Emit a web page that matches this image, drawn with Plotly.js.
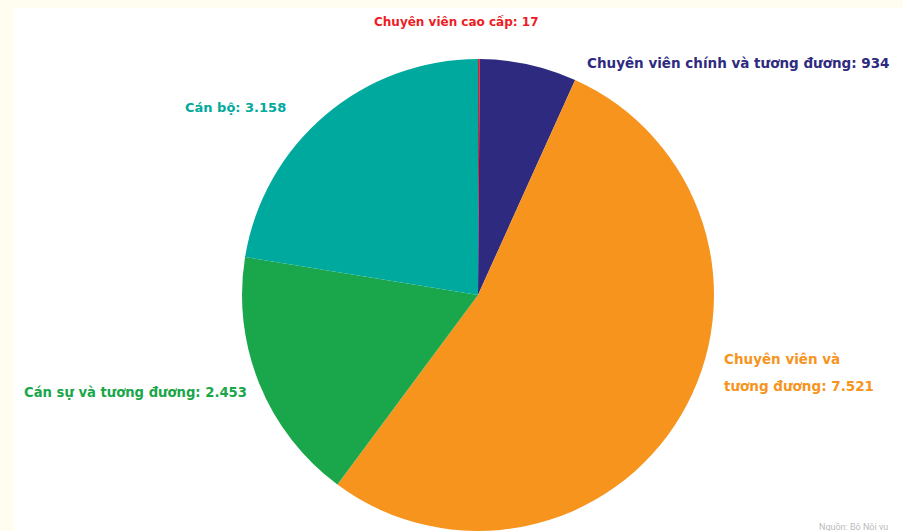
<!DOCTYPE html>
<html>
<head>
<meta charset="utf-8">
<script src="https://cdn.plot.ly/plotly-3.0.1.min.js"></script>
<style>
html,body{margin:0;padding:0;background:#FFFDEF;}
#chart{width:903px;height:531px;}
</style>
</head>
<body>
<div id="chart"></div>
<script>
const categories = ["Chuyên viên cao cấp", "Chuyên viên chính và tương đương", "Chuyên viên và tương đương", "Cán sự và tương đương", "Cán bộ"];
const values = [17, 934, 7521, 2453, 3158];
const valueLabels = ["17", "934", "7.521", "2.453", "3.158"];
const colors = ["#ED1C24", "#2E2A80", "#F7941D", "#1AA64A", "#00A99D"];

const W = 903, H = 531;
const px = x => x / W;
const py = y => 1 - y / H;

const cx = 478, cy = 295, r = 236;

// label placement: each line its own text row
const labelLines = [
  [{t: categories[0] + ": " + valueLabels[0], x: 372, y: 22, size: 12}],
  [{t: categories[1] + ": " + valueLabels[1], x: 585, y: 63, size: 13.5}],
  [{t: "Chuyên viên và", x: 722, y: 359, size: 13.5},
   {t: "tương đương: " + valueLabels[2], x: 722, y: 386, size: 13.5}],
  [{t: categories[3] + ": " + valueLabels[3], x: 22, y: 392, size: 13.2}],
  [{t: categories[4] + ": " + valueLabels[4], x: 183, y: 107, size: 13}]
];

const annotations = [];
labelLines.forEach((lines, i) => {
  lines.forEach(l => {
    annotations.push({
      text: l.t,
      x: px(l.x), y: py(l.y),
      xref: "paper", yref: "paper",
      xanchor: "left", yanchor: "middle",
      align: "left",
      showarrow: false,
      font: {family: "DejaVu Sans, Arial, sans-serif", size: l.size, color: colors[i], weight: "bold"}
    });
  });
});

annotations.push({
  text: "Nguồn: Bộ Nội vụ",
  x: px(890), y: py(527), xref: "paper", yref: "paper",
  xanchor: "right", yanchor: "middle", showarrow: false,
  font: {family: "Roboto, Arial, sans-serif", size: 9, color: "#bbbbbb"}
});

const data = [{
  type: "pie",
  labels: categories,
  values: values,
  sort: false,
  direction: "clockwise",
  rotation: 0,
  textinfo: "none",
  hoverinfo: "label+value",
  marker: {colors: colors, line: {width: 0}},
  domain: {x: [px(cx - r), px(cx + r)], y: [py(cy + r), py(cy - r)]},
  showlegend: false
}];

const layout = {
  width: W, height: H,
  margin: {l: 0, r: 0, t: 0, b: 0},
  paper_bgcolor: "#FFFDEF",
  plot_bgcolor: "#FFFFFF",
  shapes: [{
    type: "rect", xref: "paper", yref: "paper",
    x0: px(14), x1: 1, y0: 0, y1: py(8),
    fillcolor: "#FFFFFF", line: {width: 0}, layer: "below"
  }],
  annotations: annotations,
  showlegend: false
};

Plotly.newPlot("chart", data, layout, {displayModeBar: false, staticPlot: true});
</script>
</body>
</html>
